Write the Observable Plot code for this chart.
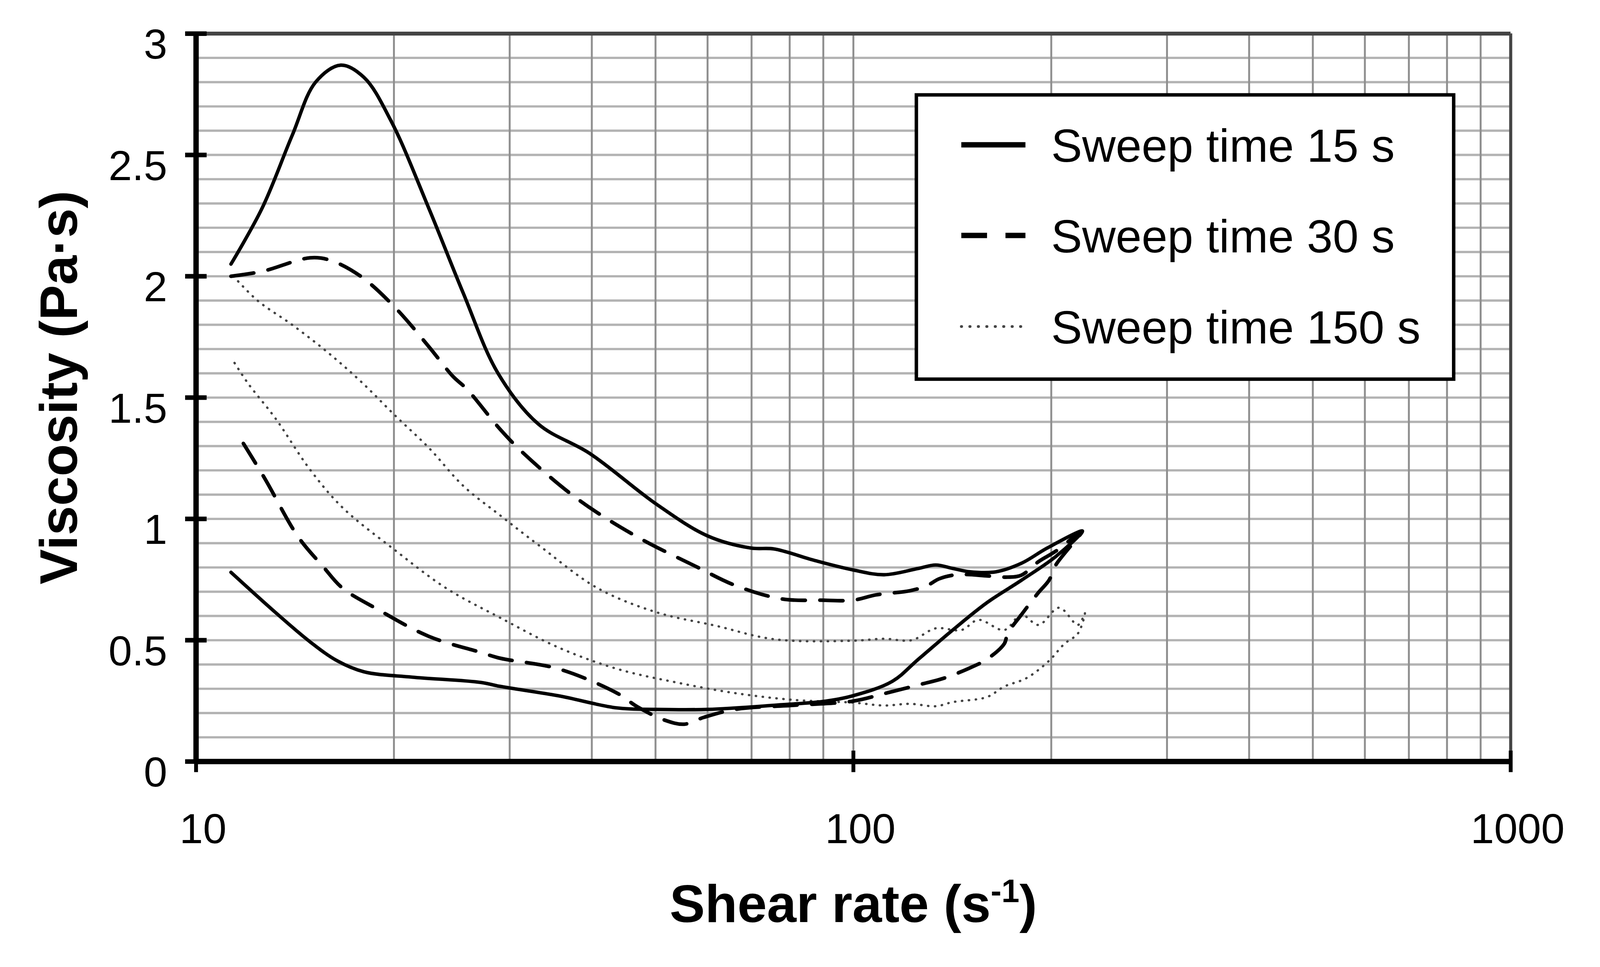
<!DOCTYPE html>
<html><head><meta charset="utf-8">
<script src="https://cdn.jsdelivr.net/npm/d3@7"></script>
<script src="https://cdn.jsdelivr.net/npm/@observablehq/plot@0.6"></script>
<style>html,body{margin:0;padding:0;background:#fff;overflow:hidden}</style>
</head><body><div id="chart"></div>
<script>
// ---- Data ----
// Sweep time 15 s : upper branch (left -> right), lower branch (right -> left)
const sweep15UpX = [11.3, 12.6, 14.0, 15.2, 16.6, 18.0, 19.8, 22.6, 25.5, 28.8, 33.2, 39.7, 50.2, 60.0, 69.8, 75.8, 87.0, 99.8, 111.4, 125.6, 133.4, 141.6, 150.4, 164.7, 180.1, 197.2, 223];
const sweep15UpY = [2.05, 2.28, 2.58, 2.80, 2.87, 2.82, 2.64, 2.28, 1.93, 1.60, 1.39, 1.27, 1.06, 0.93, 0.88, 0.876, 0.83, 0.79, 0.77, 0.796, 0.81, 0.796, 0.782, 0.782, 0.817, 0.88, 0.95];
const sweep15DownX = [203.2, 180.1, 159.7, 141.6, 125.6, 114.5, 99.8, 90.7, 75.8, 60.0, 50.2, 43.7, 35.6, 29.0, 27.1, 21.3, 18.0, 16.4, 14.9, 13.2, 11.3];
const sweep15DownY = [0.845, 0.747, 0.655, 0.542, 0.422, 0.33, 0.271, 0.249, 0.232, 0.215, 0.215, 0.221, 0.271, 0.31, 0.326, 0.348, 0.37, 0.415, 0.494, 0.615, 0.78];

// Sweep time 30 s
const sweep30UpX = [11.3, 12.6, 14.9, 16.0, 17.8, 20.1, 22.6, 24.6, 25.8, 29.0, 31.5, 38.1, 46.9, 57.6, 66.1, 77.9, 89.4, 99.8, 108.3, 121.9, 129.4, 135.0, 141.6, 148.6, 160.0, 171.7, 180.1, 191.3, 203.2, 223];
const sweep30UpY = [2.0, 2.02, 2.076, 2.066, 2.0, 1.87, 1.71, 1.587, 1.536, 1.37, 1.27, 1.081, 0.926, 0.804, 0.726, 0.67, 0.665, 0.665, 0.687, 0.704, 0.725, 0.753, 0.768, 0.771, 0.765, 0.76, 0.768, 0.824, 0.867, 0.95];
const sweep30DownX = [203.2, 198.4, 191.3, 180.1, 171.7, 169.6, 159.7, 150.4, 137.5, 125.6, 111.4, 99.8, 81.2, 66.1, 59.2, 55.3, 51.6, 46.9, 43.7, 35.6, 29.0, 27.1, 22.6, 18.9, 16.7, 15.6, 14.3, 12.7, 11.5];
const sweep30DownY = [0.81, 0.747, 0.697, 0.605, 0.528, 0.485, 0.422, 0.386, 0.344, 0.316, 0.28, 0.249, 0.232, 0.215, 0.182, 0.154, 0.171, 0.226, 0.282, 0.382, 0.426, 0.45, 0.516, 0.627, 0.715, 0.804, 0.926, 1.17, 1.36];

// Sweep time 150 s
const sweep150UpX = [11.4, 12.4, 14.0, 15.8, 17.8, 20.1, 22.6, 25.5, 29.0, 33.2, 40.8, 50.2, 61.7, 75.8, 99.8, 111.4, 122.6, 133.4, 146.0, 155.0, 169.6, 180.1, 191.3, 205.6, 219.6, 225];
const sweep150UpY = [2.0, 1.90, 1.80, 1.69, 1.567, 1.425, 1.293, 1.136, 1.015, 0.892, 0.715, 0.615, 0.56, 0.504, 0.498, 0.506, 0.50, 0.549, 0.542, 0.584, 0.542, 0.605, 0.563, 0.634, 0.563, 0.612];
const sweep150DownX = [219.6, 209.4, 198.4, 183.4, 169.6, 159.7, 141.6, 133.4, 121.9, 111.4, 99.8, 81.2, 66.1, 53.8, 43.7, 35.6, 29.0, 24.0, 20.1, 16.7, 14.9, 13.2, 12.0, 11.4];
const sweep150DownY = [0.528, 0.485, 0.415, 0.344, 0.309, 0.266, 0.245, 0.228, 0.238, 0.231, 0.243, 0.254, 0.282, 0.326, 0.382, 0.47, 0.593, 0.715, 0.87, 1.047, 1.204, 1.415, 1.558, 1.65];

const seriesNames = ["Sweep time 15 s", "Sweep time 30 s", "Sweep time 150 s"];
const xTicks = [10, 100, 1000];
const yTicks = [0, 0.5, 1, 1.5, 2, 2.5, 3];
const xGrid = [20, 30, 40, 50, 60, 70, 80, 90, 100, 200, 300, 400, 500, 600, 700, 800, 900];
const yGrid = [0.1, 0.2, 0.3, 0.4, 0.5, 0.6, 0.7, 0.8, 0.9, 1.0, 1.1, 1.2, 1.3, 1.4, 1.5, 1.6, 1.7, 1.8, 1.9, 2.0, 2.1, 2.2, 2.3, 2.4, 2.5, 2.6, 2.7, 2.8, 2.9];
const xTitle = "Shear rate (s-1)";
const yTitle = "Viscosity (Pa·s)";

// ---- Build tables ----
function loop(upX, upY, downX, downY) {
  const a = upX.map((x, i) => ({x, y: upY[i]}));
  const b = downX.map((x, i) => ({x, y: downY[i]}));
  return a.concat(b);
}
const d15 = loop(sweep15UpX, sweep15UpY, sweep15DownX, sweep15DownY);
const d30 = loop(sweep30UpX, sweep30UpY, sweep30DownX, sweep30DownY);
const d150 = loop(sweep150UpX, sweep150UpY, sweep150DownX, sweep150DownY);

const styles = [
  {stroke: "#000", strokeWidth: 9, dash: null, lw: 14, ldash: null},
  {stroke: "#000", strokeWidth: 9.5, dash: "60,38", lw: 14, ldash: "67,48"},
  {stroke: "#444", strokeWidth: 6, dash: "1,17", lw: 7, ldash: "1,21"}
];

const font = "'Liberation Sans', Arial, Helvetica, sans-serif";

const chart = Plot.plot({
  width: 4166,
  height: 2475,
  marginLeft: 510,
  marginRight: 233,
  marginTop: 87,
  marginBottom: 493,
  style: {fontFamily: font, background: "#fff", color: "#000", overflow: "visible"},
  x: {type: "log", domain: [10, 1000]},
  y: {domain: [0, 3]},
  marks: [
    Plot.ruleY(yGrid, {stroke: "#b3b3b3", strokeWidth: 6}),
    Plot.ruleX(xGrid, {stroke: "#8f8f8f", strokeWidth: 5}),
    Plot.ruleY([3], {stroke: "#444", strokeWidth: 10}),
    Plot.ruleX([1000], {stroke: "#444", strokeWidth: 8}),
    Plot.line(d150, {x: "x", y: "y", curve: "catmull-rom", stroke: styles[2].stroke, strokeWidth: styles[2].strokeWidth, strokeDasharray: styles[2].dash, strokeLinecap: "round"}),
    Plot.line(d30, {x: "x", y: "y", curve: "catmull-rom", stroke: styles[1].stroke, strokeWidth: styles[1].strokeWidth, strokeDasharray: styles[1].dash}),
    Plot.line(d15, {x: "x", y: "y", curve: "catmull-rom", stroke: styles[0].stroke, strokeWidth: styles[0].strokeWidth}),
    Plot.ruleX([10], {stroke: "#000", strokeWidth: 14}),
    Plot.ruleY([0], {stroke: "#000", strokeWidth: 14}),
    Plot.axisY(yTicks, {anchor: "left", tickSize: 56, dx: 28, strokeWidth: 12, tickFormat: () => "", label: null}),
    Plot.axisY(yTicks, {anchor: "left", tickSize: 0, tickPadding: 75, dy: 30, fontSize: 110, tickFormat: d => String(d), label: null}),
    Plot.axisX(xTicks, {anchor: "bottom", tickSize: 56, dy: -28, strokeWidth: 10, tickFormat: () => "", label: null}),
    Plot.axisX(xTicks, {anchor: "bottom", tickSize: 0, tickPadding: 134, dx: 18, fontSize: 110, tickFormat: d => String(d), label: null}),
    Plot.text([xTitle], {frameAnchor: "bottom", dy: 374, fontSize: 138, fontWeight: "bold", lineAnchor: "middle", textAnchor: "middle", fill: "#000"}),
    Plot.text([yTitle], {frameAnchor: "left", rotate: -90, dx: -354, dy: -26, fontSize: 138, fontWeight: "bold", lineAnchor: "middle", textAnchor: "middle", fill: "#000"})
  ]
});
document.getElementById("chart").appendChild(chart);

// superscript on the x title
d3.select(chart).selectAll("text").filter(function() { return this.textContent === xTitle; }).each(function() {
  const t = d3.select(this);
  t.text(null);
  t.append("tspan").text("Shear rate (s");
  t.append("tspan").attr("dy", -52).attr("font-size", 84).text("-1");
  t.append("tspan").attr("dy", 52).text(")");
});

// legend (inside the plot area, top right)
const lg = d3.select(chart).append("g").attr("font-family", font).attr("text-anchor", "start");
lg.append("rect").attr("x", 2386).attr("y", 247).attr("width", 1399).attr("height", 740)
  .attr("fill", "#fff").attr("stroke", "#000").attr("stroke-width", 9);
const rowY = [377, 613, 850];
seriesNames.forEach((name, i) => {
  const s = styles[i];
  const ln = lg.append("line").attr("x1", 2503).attr("x2", 2670).attr("y1", rowY[i]).attr("y2", rowY[i])
    .attr("stroke", s.stroke).attr("stroke-width", s.lw);
  if (s.ldash) ln.attr("stroke-dasharray", s.ldash);
  if (i === 2) ln.attr("stroke-linecap", "round");
  lg.append("text").attr("x", 2737).attr("y", rowY[i] + 44).attr("font-size", 121)
    .attr("fill", "#000").attr("text-anchor", "start").text(name);
});
</script>
</body></html>
